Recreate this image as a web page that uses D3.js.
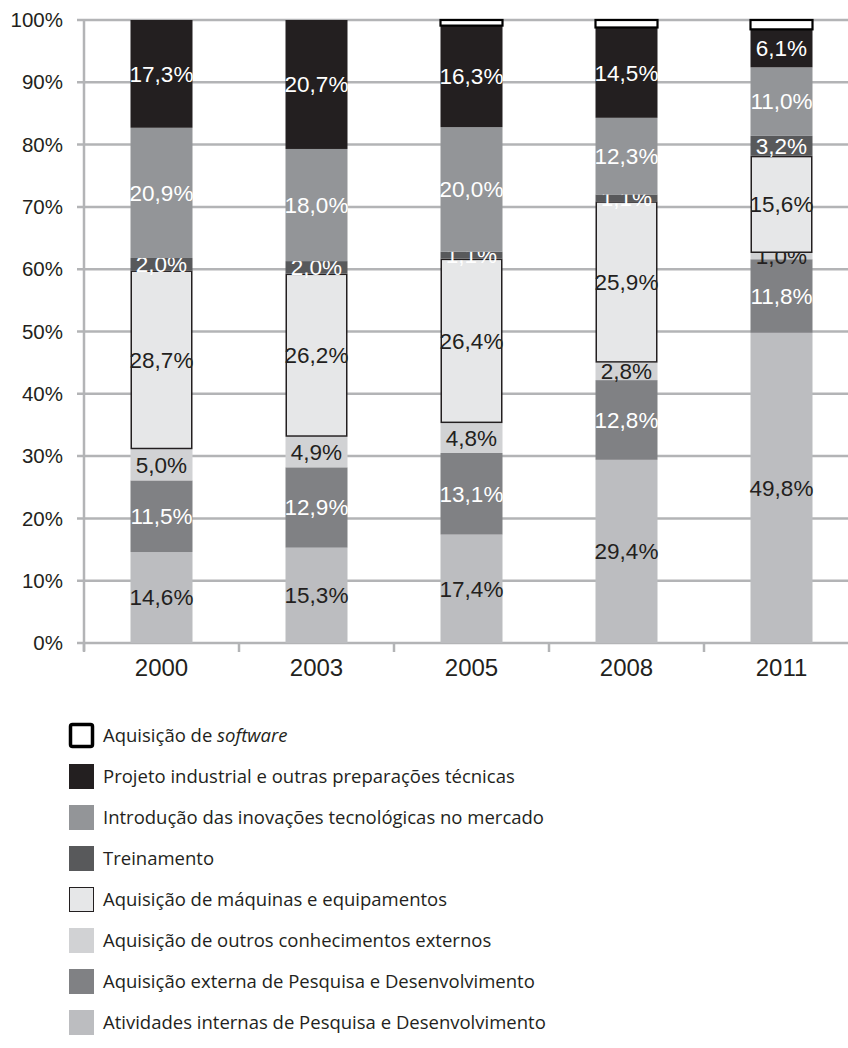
<!DOCTYPE html>
<html>
<head>
<meta charset="utf-8">
<script src="https://cdn.jsdelivr.net/npm/d3@7"></script>
<style>
  body { margin: 0; background: #fff; }
  svg { display: block; }
</style>
</head>
<body>
<svg id="chart" width="848" height="1048"></svg>
<script>
// anos
const years = ['2000', '2003', '2005', '2008', '2011'];

// categorias, de baixo para cima na pilha
const seriesNames = [
    'Atividades internas de Pesquisa e Desenvolvimento',
    'Aquisição externa de Pesquisa e Desenvolvimento',
    'Aquisição de outros conhecimentos externos',
    'Aquisição de máquinas e equipamentos',
    'Treinamento',
    'Introdução das inovações tecnológicas no mercado',
    'Projeto industrial e outras preparações técnicas',
    'Aquisição de software'
];

// valores (%) por categoria, na ordem dos anos
const internalRD   = [14.6, 15.3, 17.4, 29.4, 49.8];
const externalRD   = [11.5, 12.9, 13.1, 12.8, 11.8];
const otherKnow    = [5.0, 4.9, 4.8, 2.8, 1.0];
const machines     = [28.7, 26.2, 26.4, 25.9, 15.6];
const training     = [2.0, 2.0, 1.1, 1.1, 3.2];
const introduction = [20.9, 18.0, 20.0, 12.3, 11.0];
const project      = [17.3, 20.7, 16.3, 14.5, 6.1];
const software     = [0.0, 0.0, 0.9, 1.2, 1.5];

const yTicks = [0, 10, 20, 30, 40, 50, 60, 70, 80, 90, 100];

const seriesValues = [internalRD, externalRD, otherKnow, machines, training, introduction, project, software];

const fills   = ['#bcbdc0', '#808184', '#d1d2d4', '#e6e7e8', '#58595b', '#939598', '#231f20', '#ffffff'];
const strokes = [null, null, null, '#231f20', null, null, null, '#000'];
const labelColors = ['#231f20', '#fff', '#231f20', '#231f20', '#fff', '#fff', '#fff', null];

const svg = d3.select('#chart');
const margin = { left: 84, top: 20, bottom: 643 };
const labelFont = 'Liberation Sans, Arial, sans-serif';

const x = d3.scaleBand()
    .domain(years)
    .range([84, 859])
    .paddingInner(0.6)
    .paddingOuter(0.3);
const y = d3.scaleLinear()
    .domain([0, 100])
    .range([margin.bottom, margin.top]);

// grade horizontal
svg.append('g')
    .selectAll('line')
    .data(yTicks)
    .join('line')
    .attr('x1', 77)
    .attr('x2', 848)
    .attr('y1', d => y(d))
    .attr('y2', d => y(d))
    .attr('stroke', '#b3b4b6')
    .attr('stroke-width', 2.5);

// eixo y
svg.append('line')
    .attr('x1', 84).attr('x2', 84)
    .attr('y1', y(100)).attr('y2', y(0) + 8)
    .attr('stroke', '#b3b4b6')
    .attr('stroke-width', 2.5);

svg.append('g')
    .selectAll('text')
    .data(yTicks)
    .join('text')
    .attr('x', 63)
    .attr('y', d => y(d))
    .attr('dy', '0.35em')
    .attr('text-anchor', 'end')
    .attr('font-family', labelFont)
    .attr('font-size', 20.5)
    .attr('fill', '#231f20')
    .text(d => d + '%');

// eixo x: marcas entre categorias
const step = x.step();
const gap = step - x.bandwidth();
const boundaries = years.map(d => x(d) - gap / 2)
    .concat([x(years[years.length - 1]) + x.bandwidth() + gap / 2]);
svg.append('g')
    .selectAll('line')
    .data(boundaries)
    .join('line')
    .attr('x1', d => d).attr('x2', d => d)
    .attr('y1', y(0)).attr('y2', y(0) + 9)
    .attr('stroke', '#b3b4b6')
    .attr('stroke-width', 2.5);

svg.append('g')
    .selectAll('text')
    .data(years)
    .join('text')
    .attr('x', d => x(d) + x.bandwidth() / 2)
    .attr('y', y(0) + 25)
    .attr('dy', '0.35em')
    .attr('text-anchor', 'middle')
    .attr('font-family', labelFont)
    .attr('font-size', 24)
    .attr('fill', '#231f20')
    .text(d => d);

// pilhas
const table = years.map((yr, i) => {
    const row = { year: yr };
    seriesNames.forEach((name, s) => row[name] = seriesValues[s][i]);
    return row;
});
const stacked = d3.stack().keys(seriesNames)(table);

const layers = svg.append('g')
    .selectAll('g')
    .data(stacked)
    .join('g');

layers.each(function(layer, s) {
    const g = d3.select(this);
    const segs = layer.filter(d => d[1] - d[0] > 0);
    const inset = s === 3 ? 0.75 : 0;
    g.selectAll('rect')
        .data(segs)
        .join('rect')
        .attr('x', d => x(d.data.year) + inset)
        .attr('y', d => y(d[1]) + inset)
        .attr('width', x.bandwidth() - inset * 2)
        .attr('height', d => Math.max(0, y(d[0]) - y(d[1]) - inset * 2))
        .attr('fill', fills[s])
        .attr('stroke', strokes[s] || 'none')
        .attr('stroke-width', s === 7 ? 2.2 : 1.5);

    if (labelColors[s]) {
        g.selectAll('text')
            .data(segs)
            .join('text')
            .attr('x', d => x(d.data.year) + x.bandwidth() / 2)
            .attr('y', d => y((d[0] + d[1]) / 2))
            .attr('dy', '0.35em')
            .attr('text-anchor', 'middle')
            .attr('font-family', labelFont)
            .attr('font-size', 22.5)
            .attr('fill', labelColors[s])
            .text(d => d3.format('.1f')(d[1] - d[0]).replace('.', ',') + '%');
    }
});

// legenda (ordem inversa da pilha)
const legendOrder = d3.range(seriesNames.length).reverse();
const legend = svg.append('g')
    .selectAll('g')
    .data(legendOrder)
    .join('g')
    .attr('transform', (d, i) => `translate(69, ${723 + i * 41})`);

legend.append('rect')
    .attr('x', d => d === 7 ? 1.5 : (strokes[d] ? 0.5 : 0))
    .attr('y', d => d === 7 ? 1.5 : (strokes[d] ? 0.5 : 0))
    .attr('width', d => d === 7 ? 22 : (strokes[d] ? 24 : 25))
    .attr('height', d => d === 7 ? 22 : (strokes[d] ? 24 : 25))
    .attr('rx', d => d === 7 ? 2 : 0)
    .attr('fill', d => fills[d])
    .attr('stroke', d => strokes[d] || 'none')
    .attr('stroke-width', d => d === 7 ? 3.5 : 1);

const legendText = legend.append('text')
    .attr('x', 34)
    .attr('y', 13)
    .attr('dy', '0.35em')
    .attr('font-family', 'Open Sans, Noto Sans, sans-serif')
    .attr('font-size', 18.5)
    .attr('fill', '#231f20');

legendText.each(function(d) {
    const t = d3.select(this);
    if (d === 7) {
        t.append('tspan').text('Aquisição de ');
        t.append('tspan').attr('font-style', 'italic').text('software');
    } else {
        t.text(seriesNames[d]);
    }
});
</script>
</body>
</html>
